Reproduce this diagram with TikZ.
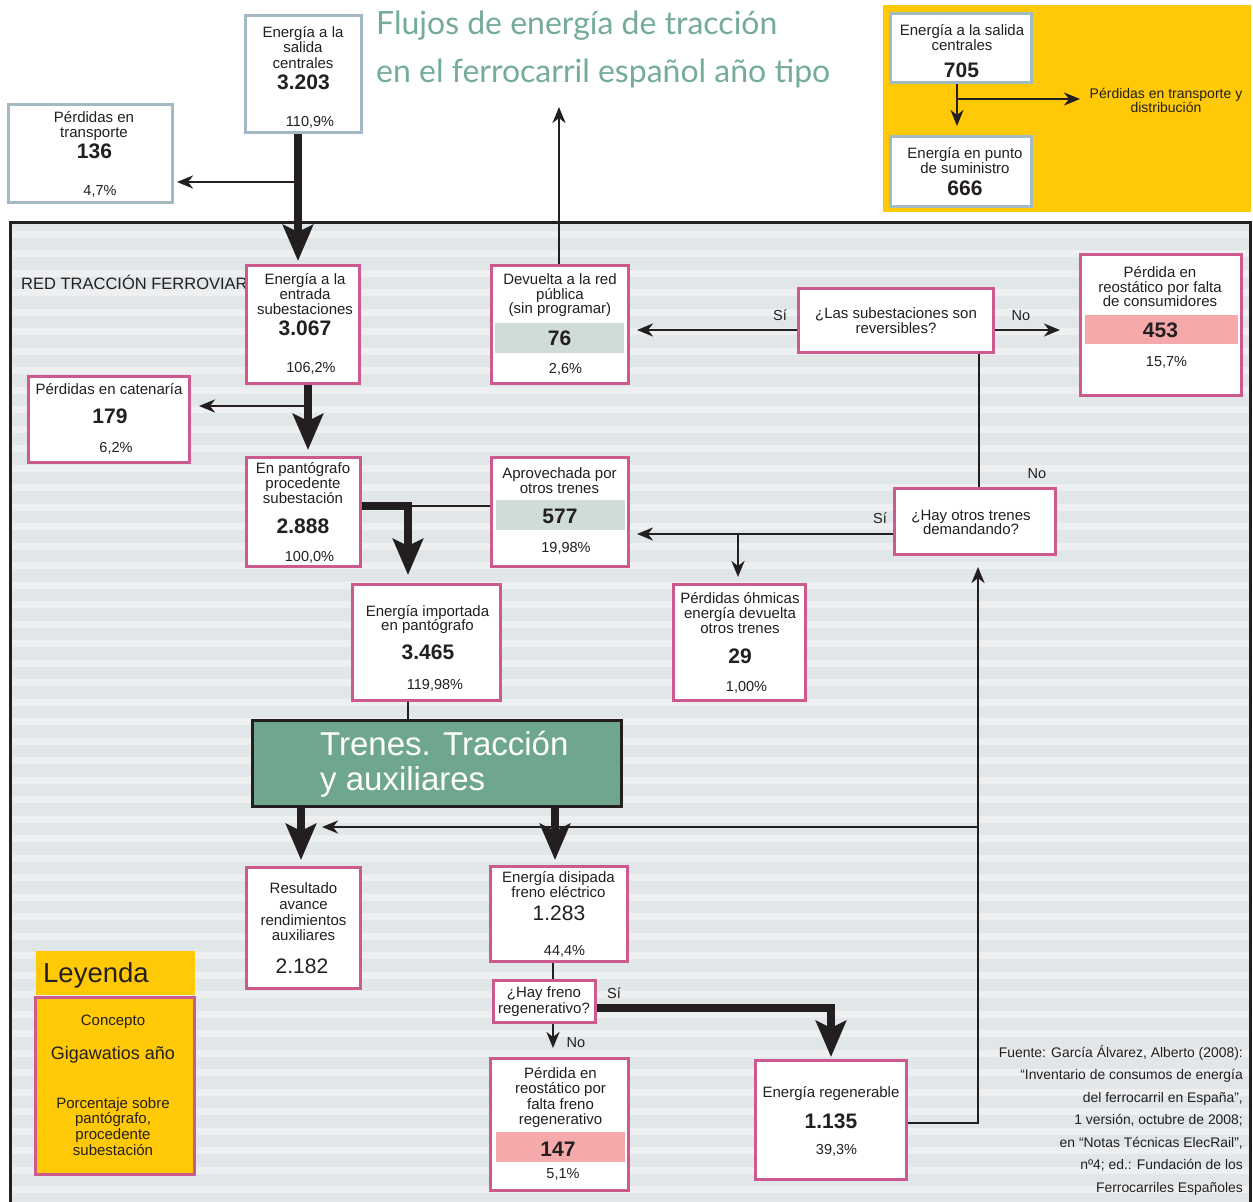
\documentclass[tikz,border=0pt]{standalone}
\usepackage{fontspec}
\setmainfont{Liberation Sans}
\newfontfamily\titlefont{Lato}
\usetikzlibrary{arrows.meta}
\definecolor{ink}{HTML}{231F20}
\definecolor{pinkc}{HTML}{CC5A8E}
\definecolor{bluec}{HTML}{A3BAC5}
\definecolor{yel}{HTML}{FFCA05}
\definecolor{trgreen}{HTML}{6FA78E}
\definecolor{titgreen}{HTML}{74AC95}
\definecolor{bandg}{HTML}{D0DDD7}
\definecolor{bandr}{HTML}{F6A9AA}
\definecolor{strA}{HTML}{E1E6E9}
\definecolor{strB}{HTML}{EDEFF1}
\newcommand\fB{\fontsize{15}{15}\selectfont}
\newcommand\fN{\fontsize{21}{21}\selectfont\bfseries}
\newcommand\fR{\fontsize{21}{21}\selectfont}
\newcommand\fP{\fontsize{14.5}{15}\selectfont}
\newcommand\bx[6]{\node[#1, minimum width={(#4)-(#2)-3}, minimum height={(#5)-(#3)-3}] (#6) at ({((#2)+(#4))/2},{((#3)+(#5))/2}) {};}
\tikzset{
  pbox/.style={draw=pinkc, line width=3pt, fill=white, inner sep=0pt},
  gbox/.style={draw=bluec, line width=3pt, fill=white, inner sep=0pt},
  trbox/.style={draw=ink, line width=3.5pt, fill=trgreen, inner sep=0pt},
  lgbox/.style={draw=pinkc, line width=3pt, fill=yel, inner sep=0pt},
  txt/.style={anchor=base, inner sep=0pt, text=ink},
  srctxt/.style={anchor=base east, inner sep=0pt, text=ink, font=\fontsize{13.9}{14}\selectfont},
  titletxt/.style={anchor=base west, inner sep=0pt, text=titgreen, font=\titlefont\fontsize{32}{32}\selectfont},
  thickarr/.style={draw=ink, line width=7.5pt, -{Stealth[length=36pt,width=30pt,inset=7pt]}},
  thickline/.style={draw=ink, line width=7.5pt},
  thinarr/.style={draw=ink, line width=2.5pt, -{Stealth[length=16pt,width=13pt,inset=5pt]}},
  thinline/.style={draw=ink, line width=2.5pt}
}
\begin{document}
\begin{tikzpicture}[x=1pt,y=-1pt]
\useasboundingbox (0,0) rectangle (1253,1202);
\fill[white] (0,0) rectangle (1253,1202);
% main frame background with stripes
\fill[strA] (10,222) rectangle (1250,1202);
\foreach \k in {0,...,49} { \fill[strB] (11,{230.5+19.5*\k}) rectangle (1249,{237.5+19.5*\k}); }
\draw[ink, line width=3pt] (10,1206) -- (10,222) -- (1250,222) -- (1250,1206);
% yellow panel
\fill[yel] (883,5) rectangle (1251,212);
% title
\node[titletxt] (title1) at (376,34) {Flujos de energía de tracción};
\node[titletxt] (title2) at (376,82) {en el ferrocarril español año tipo};
% red label
\node[anchor=base west, inner sep=0pt, text=ink, font=\fontsize{16.5}{16.5}\selectfont] (redlbl) at (21,289) {RED TRACCIÓN FERROVIARIA};
% boxes
\bx{gbox}{244}{14}{363}{134}{c1}
\bx{gbox}{7}{103}{174}{204}{pt}
\bx{pbox}{245}{264}{361}{385}{es}
\bx{pbox}{27}{375}{191}{464}{pc}
\bx{pbox}{245}{456}{362}{568}{ep}
\bx{pbox}{490}{456}{630}{568}{ao}
\bx{pbox}{351}{583}{502}{702}{ei}
\bx{pbox}{490}{264}{630}{385}{dr}
\bx{pbox}{797}{287}{995}{354}{ls}
\bx{pbox}{1079}{253}{1243}{397}{rc}
\bx{pbox}{893}{487}{1057}{556}{ho}
\bx{pbox}{672}{583}{807}{702}{po}
\bx{pbox}{245}{866}{362}{990}{ra}
\bx{pbox}{489}{865}{629}{963}{ed}
\bx{pbox}{492}{979}{597}{1024}{hf}
\bx{pbox}{489}{1057}{630}{1192}{pr}
\bx{pbox}{754}{1059}{908}{1181}{er}
\bx{gbox}{889}{12}{1033}{84}{tr1}
\bx{gbox}{889}{135}{1033}{208}{tr2}
\bx{trbox}{251}{719}{623}{808}{tr}
\fill[yel] (36,951) rectangle (195,995);
\bx{lgbox}{34}{996}{196}{1176}{lg}
% bands
\fill[bandg] (496,500) rectangle (625,530);
\fill[bandg] (495,323) rectangle (624,353);
\fill[bandr] (1085,315) rectangle (1238,344);
\fill[bandr] (496,1132) rectangle (625,1162);
% texts: c1
\node[txt, font=\fB] (c1a) at (303,37) {Energía a la};
\node[txt, font=\fB] (c1b) at (303,52) {salida};
\node[txt, font=\fB] (c1c) at (303,68) {centrales};
\node[txt, font=\fN] (c1n) at (303.5,89) {3.203};
\node[txt, font=\fP] (c1p) at (310,126) {110,9\%};
% pt
\node[txt, font=\fB] (pta) at (94,122) {Pérdidas en};
\node[txt, font=\fB] (ptb) at (94,137) {transporte};
\node[txt, font=\fN] (ptn) at (94.5,158) {136};
\node[txt, font=\fP] (ptp) at (100,195) {4,7\%};
% es
\node[txt, font=\fB] (esa) at (305,284) {Energía a la};
\node[txt, font=\fB] (esb) at (305,299) {entrada};
\node[txt, font=\fB] (esc) at (305,314) {subestaciones};
\node[txt, font=\fN] (esn) at (305,335) {3.067};
\node[txt, font=\fP] (esp) at (311,372) {106,2\%};
% pc
\node[txt, font=\fB] (pca) at (109,394) {Pérdidas en catenaría};
\node[txt, font=\fN] (pcn) at (110,423) {179};
\node[txt, font=\fP] (pcp) at (116,452) {6,2\%};
% ep
\node[txt, font=\fB] (epa) at (303,473) {En pantógrafo};
\node[txt, font=\fB] (epb) at (303,488) {procedente};
\node[txt, font=\fB] (epc) at (303,503) {subestación};
\node[txt, font=\fN] (epn) at (303,533) {2.888};
\node[txt, font=\fP] (epp) at (309.5,561) {100,0\%};
% ao
\node[txt, font=\fB] (aoa) at (559.5,478) {Aprovechada por};
\node[txt, font=\fB] (aob) at (559.5,493) {otros trenes};
\node[txt, font=\fN] (aon) at (560,523) {577};
\node[txt, font=\fP] (aop) at (566,552) {19,98\%};
% ei
\node[txt, font=\fB] (eia) at (427.5,616) {Energía importada};
\node[txt, font=\fB] (eib) at (427.5,630) {en pantógrafo};
\node[txt, font=\fN] (ein) at (428,659) {3.465};
\node[txt, font=\fP] (eip) at (435,689) {119,98\%};
% dr
\node[txt, font=\fB] (dra) at (560,284) {Devuelta a la red};
\node[txt, font=\fB] (drb) at (560,299) {pública};
\node[txt, font=\fB] (drc) at (560,313) {(sin programar)};
\node[txt, font=\fN] (drn) at (559.5,345) {76};
\node[txt, font=\fP] (drp) at (565.5,373) {2,6\%};
% ls
\node[txt, font=\fB] (lsa) at (896,318) {¿Las subestaciones son};
\node[txt, font=\fB] (lsb) at (896,333) {reversibles?};
% rc
\node[txt, font=\fB] (rca) at (1160,277) {Pérdida en};
\node[txt, font=\fB] (rcb) at (1160,292) {reostático por falta};
\node[txt, font=\fB] (rcc) at (1160,306) {de consumidores};
\node[txt, font=\fN] (rcn) at (1160.5,337) {453};
\node[txt, font=\fP] (rcp) at (1166.5,366) {15,7\%};
% ho
\node[txt, font=\fB] (hoa) at (971,520) {¿Hay otros trenes};
\node[txt, font=\fB] (hob) at (971,534) {demandando?};
% po
\node[txt, font=\fB] (poa) at (740,603) {Pérdidas óhmicas};
\node[txt, font=\fB] (pob) at (740,618) {energía devuelta};
\node[txt, font=\fB] (poc) at (740,633) {otros trenes};
\node[txt, font=\fN] (pon) at (740,663) {29};
\node[txt, font=\fP] (pop) at (746.5,691) {1,00\%};
% trains
\node[anchor=base west, inner sep=0pt, text=white, font=\fontsize{33}{33}\selectfont] (tra) at (320,755) {Trenes. Tracción};
\node[anchor=base west, inner sep=0pt, text=white, font=\fontsize{33}{33}\selectfont] (trb) at (320,790) {y auxiliares};
% ra
\node[txt, font=\fB] (raa) at (303.5,893) {Resultado};
\node[txt, font=\fB] (rab) at (303.5,909) {avance};
\node[txt, font=\fB] (rac) at (303.5,925) {rendimientos};
\node[txt, font=\fB] (rad) at (303.5,940) {auxiliares};
\node[txt, font=\fR] (ran) at (302,973) {2.182};
% ed
\node[txt, font=\fB] (eda) at (558.5,882) {Energía disipada};
\node[txt, font=\fB] (edb) at (558.5,897) {freno eléctrico};
\node[txt, font=\fR] (edn) at (559,920) {1.283};
\node[txt, font=\fP] (edp) at (564.5,955) {44,4\%};
% hf
\node[txt, font=\fB] (hfa) at (544,997) {¿Hay freno};
\node[txt, font=\fB] (hfb) at (544,1013) {regenerativo?};
% pr
\node[txt, font=\fB] (pra) at (560.5,1078) {Pérdida en};
\node[txt, font=\fB] (prb) at (560.5,1093) {reostático por};
\node[txt, font=\fB] (prc) at (560.5,1109) {falta freno};
\node[txt, font=\fB] (prd) at (560.5,1124) {regenerativo};
\node[txt, font=\fN] (prn) at (558,1156) {147};
\node[txt, font=\fP] (prp) at (563,1178) {5,1\%};
% er
\node[txt, font=\fB] (era) at (831,1097) {Energía regenerable};
\node[txt, font=\fN] (ern) at (831,1128) {1.135};
\node[txt, font=\fP] (erp) at (836.5,1154) {39,3\%};
% top right
\node[txt, font=\fB] (tr1a) at (962,35) {Energía a la salida};
\node[txt, font=\fB] (tr1b) at (962,50) {centrales};
\node[txt, font=\fN] (tr1n) at (961.5,77) {705};
\node[txt, font=\fB] (tr2a) at (965,158) {Energía en punto};
\node[txt, font=\fB] (tr2b) at (965,173) {de suministro};
\node[txt, font=\fN] (tr2n) at (965,195) {666};
\node[txt, font=\fontsize{14}{14}\selectfont] (ptda) at (1166,98) {Pérdidas en transporte y};
\node[txt, font=\fontsize{14}{14}\selectfont] (ptdb) at (1166,112) {distribución};
% legend
\node[anchor=base west, inner sep=0pt, text=ink, font=\fontsize{27.5}{27.5}\selectfont] (lgt) at (43,982) {Leyenda};
\node[txt, font=\fB] (lga) at (113,1025) {Concepto};
\node[txt, font=\fontsize{18}{18}\selectfont] (lgb) at (113,1059) {Gigawatios año};
\node[txt, font=\fB] (lgc) at (113,1108) {Porcentaje sobre};
\node[txt, font=\fB] (lgd) at (113,1123) {pantógrafo,};
\node[txt, font=\fB] (lge) at (113,1139) {procedente};
\node[txt, font=\fB] (lgf) at (113,1155) {subestación};
% labels
\node[txt, font=\fP] (l1) at (780,320) {Sí};
\node[txt, font=\fP] (l2) at (1021,320) {No};
\node[txt, font=\fP] (l3) at (1037,478) {No};
\node[txt, font=\fP] (l4) at (880,523) {Sí};
\node[txt, font=\fP] (l5) at (614,998) {Sí};
\node[txt, font=\fP] (l6) at (576,1047) {No};
% source
\node[srctxt] (s1) at (1243,1057) {Fuente: García Álvarez, Alberto (2008):};
\node[srctxt] (s2) at (1243,1079.5) {“Inventario de consumos de energía};
\node[srctxt] (s3) at (1243,1102) {del ferrocarril en España”,};
\node[srctxt] (s4) at (1243,1124.5) {1 versión, octubre de 2008;};
\node[srctxt] (s5) at (1243,1147) {en “Notas Técnicas ElecRail”,};
\node[srctxt] (s6) at (1243,1169.5) {nº4; ed.: Fundación de los};
\node[srctxt] (s7) at (1243,1192) {Ferrocarriles Españoles};
% helper coordinates
\coordinate (k298) at (298,0);
\coordinate (k308) at (308,0);
\coordinate (k408) at (408,0);
\coordinate (k301) at (301,0);
\coordinate (k555) at (555,0);
\coordinate (k978) at (978,0);
\coordinate (k553) at (553,0);
\coordinate (k831) at (831,0);
\coordinate (k559) at (559,0);
\coordinate (k979) at (979,0);
\coordinate (k738) at (738,0);
\coordinate (k957) at (957,0);
\coordinate (r182) at (0,182);
\coordinate (r406) at (0,406);
\coordinate (r506) at (0,506);
\coordinate (r1123) at (0,1123);
\coordinate (r827) at (0,827);
\coordinate (r1008) at (0,1008);
\coordinate (r330) at (0,330);
\coordinate (r534) at (0,534);
\coordinate (r99) at (0,99);
\coordinate (pubend) at (559,107);
\coordinate (ptdend) at (1080,99);
\coordinate (trleft) at (322,827);
% connectors
\draw[thickarr, shorten >=3pt] (c1.south -| k298) -- (es.north -| k298);
\draw[thinarr, shorten >=3pt] (k298 |- r182) -- (pt.east |- r182);
\draw[thickarr, shorten >=6pt] (es.south -| k308) -- (ep.north -| k308);
\draw[thinarr, shorten >=8pt] (k308 |- r406) -- (pc.east |- r406);
\draw[thinline] (k408 |- r506) -- (ao.west |- r506);
\draw[thickarr, shorten >=8pt] (ep.east |- r506) -- (k408 |- r506) -- (k408 |- ei.north);
\draw[thinline] (ei.south -| k408) -- (tr.north -| k408);
\draw[thickarr, shorten >=6pt] (tr.south -| k301) -- (ra.north -| k301);
\draw[thinarr] (k978 |- r827) -- (trleft);
\draw[thickarr, shorten >=5pt] (tr.south -| k555) -- (ed.north -| k555);
\draw[thinarr, shorten >=11pt] (er.east |- r1123) -- (k978 |- r1123) -- (k978 |- ho.south);
\draw[thinline] (ed.south -| k553) -- (hf.north -| k553);
\draw[thinarr, shorten >=9pt] (hf.south -| k553) -- (pr.north -| k553);
\draw[thickarr, shorten >=2pt] (hf.east |- r1008) -- (k831 |- r1008) -- (k831 |- er.north);
\draw[thinarr] (dr.north -| k559) -- (pubend);
\draw[thinarr, shorten >=7pt] (ls.west |- r330) -- (dr.east |- r330);
\draw[thinarr, shorten >=19pt] (ls.east |- r330) -- (rc.west |- r330);
\draw[thinline] (ls.south -| k979) -- (ho.north -| k979);
\draw[thinarr, shorten >=7pt] (ho.west |- r534) -- (ao.east |- r534);
\draw[thinarr, shorten >=6pt] (k738 |- r534) -- (po.north -| k738);
\draw[thinarr, shorten >=9pt] (tr1.south -| k957) -- (tr2.north -| k957);
\draw[thinarr] (k957 |- r99) -- (ptdend);
\end{tikzpicture}
\end{document}
